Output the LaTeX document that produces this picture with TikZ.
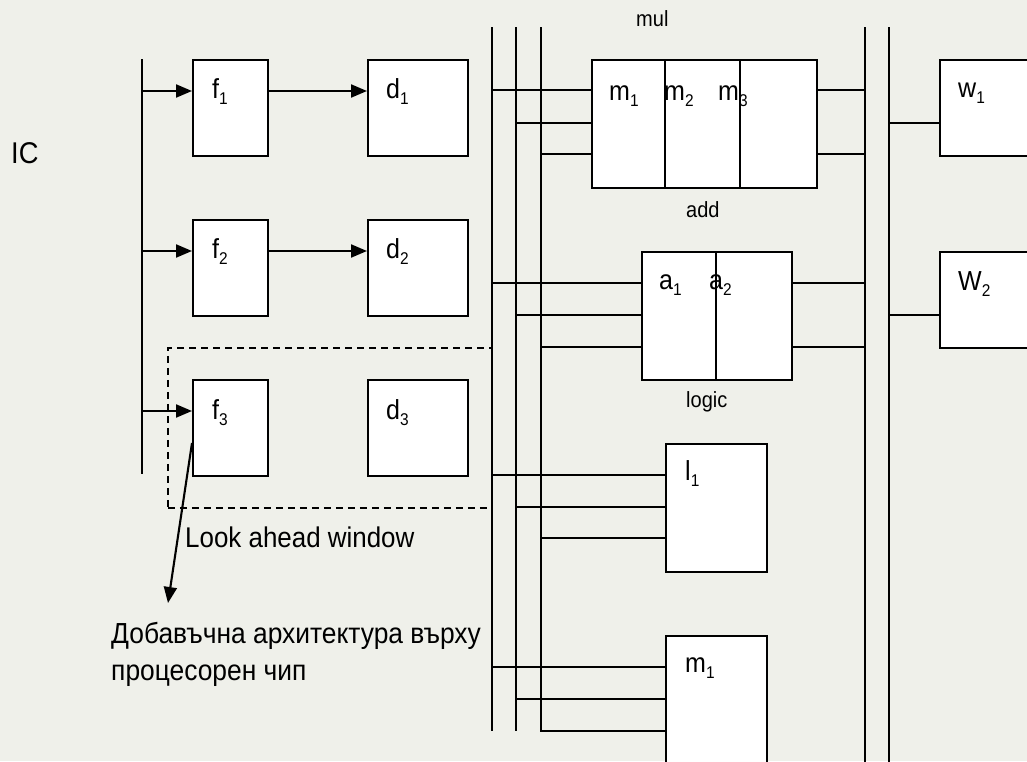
\documentclass[tikz,border=0pt]{standalone}
\usepackage{fontspec}
\setmainfont{Liberation Sans}[FakeStretch=0.91]
\usetikzlibrary{arrows.meta}
\definecolor{bg}{HTML}{EFF0EA}
\newcommand\lsub[1]{\raisebox{-0.22em}{\fontsize{17}{17}\selectfont #1}}
\tikzset{
  blk/.style={draw, fill=white, line width=2.1pt, inner sep=0pt, anchor=north west},
  wire/.style={line width=2.1pt},
  arr/.style={wire, -{Triangle[length=16pt,width=13pt]}},
  lbl/.style={inner sep=0pt, anchor=base west, font=\fontsize{27.5}{30}\selectfont},
  unitlbl/.style={inner sep=0pt, anchor=base west, font=\fontsize{22}{26}\selectfont},
  txt/.style={inner sep=0pt, anchor=base west, font=\fontsize{28.5}{32}\selectfont},
  window/.style={draw, dashed, dash pattern=on 7pt off 5pt, line width=1.8pt, inner sep=0pt, anchor=north west},
}
\begin{document}
\begin{tikzpicture}[x=1pt,y=-1pt]
\useasboundingbox (0,0) rectangle (1027,761);
\fill[bg] (0,0) rectangle (1027,761);
\clip (0,0) rectangle (1027,761);

% bus coordinates
\coordinate (L0t) at (142,59);  \coordinate (L0b) at (142,474);
\coordinate (B1t) at (492,27);  \coordinate (B1b) at (492,731);
\coordinate (B2t) at (516,27);  \coordinate (B2b) at (516,731);
\coordinate (B3t) at (541,27);  \coordinate (B3b) at (541,731);
\coordinate (R1t) at (865,27);  \coordinate (R1b) at (865,770);
\coordinate (R2t) at (889,27);  \coordinate (R2b) at (889,770);

% boxes
\node[blk, minimum width=75pt, minimum height=96pt] (f1) at (192,59) {};
\node[blk, minimum width=75pt, minimum height=96pt] (f2) at (192,219) {};
\node[blk, minimum width=75pt, minimum height=96pt] (f3) at (192,379) {};
\node[blk, minimum width=100pt, minimum height=96pt] (d1) at (367,59) {};
\node[blk, minimum width=100pt, minimum height=96pt] (d2) at (367,219) {};
\node[blk, minimum width=100pt, minimum height=96pt] (d3) at (367,379) {};
\node[blk, minimum width=225pt, minimum height=128pt] (mul) at (591,59) {};
\node[blk, minimum width=150pt, minimum height=128pt] (add) at (641,251) {};
\node[blk, minimum width=101pt, minimum height=128pt] (l1) at (665,443) {};
\node[blk, minimum width=101pt, minimum height=150pt] (mb) at (665,635) {};
\node[blk, minimum width=120pt, minimum height=96pt] (w1) at (939,59) {};
\node[blk, minimum width=120pt, minimum height=96pt] (w2) at (939,251) {};
\node[window, minimum width=324pt, minimum height=160pt] (win) at (167,347) {};

% dividers
\draw[line width=1.7pt] ([xshift=74pt]mul.north west) -- ([xshift=74pt]mul.south west);
\draw[line width=1.7pt] ([xshift=149pt]mul.north west) -- ([xshift=149pt]mul.south west);
\draw[line width=1.7pt] ([xshift=75pt]add.north west) -- ([xshift=75pt]add.south west);

% buses
\draw[wire] (L0t) -- (L0b);
\draw[wire] (B1t) -- (B1b);
\draw[wire] (B2t) -- (B2b);
\draw[wire] (B3t) -- (B3b) -- (mb.west |- B3b);
\draw[wire] (R1t) -- (R1b);
\draw[wire] (R2t) -- (R2b);

% fetch/decode arrows
\draw[arr] (L0t |- 0,91) -- (f1.west |- 0,91);
\draw[arr] (L0t |- 0,251) -- (f2.west |- 0,251);
\draw[arr] (L0t |- 0,411) -- (f3.west |- 0,411);
\draw[arr] (f1.east |- 0,91) -- (d1.west |- 0,91);
\draw[arr] (f2.east |- 0,251) -- (d2.west |- 0,251);

% bus to units
\draw[wire] (B1t |- 0,90) -- (mul.west |- 0,90);
\draw[wire] (B2t |- 0,123) -- (mul.west |- 0,123);
\draw[wire] (B3t |- 0,154) -- (mul.west |- 0,154);
\draw[wire] (mul.east |- 0,90) -- (R1t |- 0,90);
\draw[wire] (mul.east |- 0,154) -- (R1t |- 0,154);

\draw[wire] (B1t |- 0,283) -- (add.west |- 0,283);
\draw[wire] (B2t |- 0,315) -- (add.west |- 0,315);
\draw[wire] (B3t |- 0,347) -- (add.west |- 0,347);
\draw[wire] (add.east |- 0,283) -- (R1t |- 0,283);
\draw[wire] (add.east |- 0,347) -- (R1t |- 0,347);

\draw[wire] (B1t |- 0,475) -- (l1.west |- 0,475);
\draw[wire] (B2t |- 0,507) -- (l1.west |- 0,507);
\draw[wire] (B3t |- 0,538) -- (l1.west |- 0,538);

\draw[wire] (B1t |- 0,667) -- (mb.west |- 0,667);
\draw[wire] (B2t |- 0,699) -- (mb.west |- 0,699);

\draw[wire] (R2t |- 0,123) -- (w1.west |- 0,123);
\draw[wire] (R2t |- 0,315) -- (w2.west |- 0,315);

% annotation arrow
\coordinate (tip) at (168,603);
\draw[arr] (f3.west |- 0,443) -- (tip);

% labels
\node[lbl] (tf1) at (212,98) {f\lsub{1}};
\node[lbl] (tf2) at (212,258) {f\lsub{2}};
\node[lbl] (tf3) at (212,419) {f\lsub{3}};
\node[lbl] (td1) at (386,98) {d\lsub{1}};
\node[lbl] (td2) at (386,258) {d\lsub{2}};
\node[lbl] (td3) at (386,419) {d\lsub{3}};
\node[lbl] (tm1) at (609,100) {m\lsub{1}};
\node[lbl] (tm2) at (664,100) {m\lsub{2}};
\node[lbl] (tm3) at (718,100) {m\lsub{3}};
\node[lbl] (ta1) at (659,289) {a\lsub{1}};
\node[lbl] (ta2) at (709,289) {a\lsub{2}};
\node[lbl] (tl1) at (685,480) {l\lsub{1}};
\node[lbl] (tmb) at (685,672) {m\lsub{1}};
\node[lbl] (tw1) at (958,97) {w\lsub{1}};
\node[lbl] (tw2) at (958,290) {W\lsub{2}};

\node[unitlbl] (tmul) at (636,26) {mul};
\node[unitlbl] (tadd) at (686,217) {add};
\node[unitlbl] (tlog) at (686,407) {logic};

\node[txt, font=\fontsize{30}{32}\selectfont] (tic) at (11,163) {IC};
\node[txt] (tlook) at (185,547) {Look ahead window};
\node[inner sep=0pt, anchor=base west, font=\fontsize{29}{32}\selectfont] (tbg1) at (111,643) {Добавъчна архитектура върху};
\node[inner sep=0pt, anchor=base west, font=\fontsize{29}{32}\selectfont] (tbg2) at (111,680) {процесорен чип};
\end{tikzpicture}
\end{document}
